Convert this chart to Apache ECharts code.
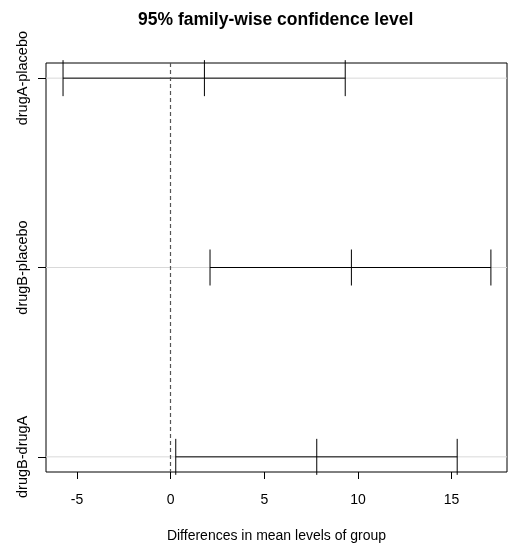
<!DOCTYPE html>
<html>
<head>
<meta charset="utf-8">
<script src="https://cdn.jsdelivr.net/npm/echarts@6/dist/echarts.min.js"></script>
<style>
  html, body { margin: 0; padding: 0; background: #fff; }
  #chart { width: 509px; height: 543px; }
</style>
</head>
<body>
<div id="chart"></div>
<script>
// Tukey HSD comparisons (top to bottom)
var comparisons = ["drugA-placebo", "drugB-placebo", "drugB-drugA"];
var diffs = [1.8, 9.65, 7.8];
var lowers = [-5.75, 2.1, 0.27];
var uppers = [9.32, 17.1, 15.3];
var xTicks = [-5, 0, 5, 10, 15];
var rowPos = [1, 2, 3];

var rows = comparisons.map(function (name, i) {
  return [rowPos[i], lowers[i], diffs[i], uppers[i]];
});

var myChart = echarts.init(document.getElementById("chart"));
var font = "Liberation Sans, Arial, sans-serif";

var option = {
  animation: false,
  title: {
    text: "95% family-wise confidence level",
    left: 133,
    top: 6,
    textStyle: { fontFamily: font, fontSize: 17.5, fontWeight: "bold", color: "#000" }
  },
  grid: {
    left: 46,
    right: 2,
    top: 63,
    bottom: 71,
    outerBoundsMode: "none",
    show: true,
    borderColor: "#000",
    borderWidth: 1
  },
  xAxis: {
    type: "value",
    min: -6.66,
    max: 17.96,
    name: "Differences in mean levels of group",
    nameLocation: "middle",
    nameGap: 57,
    nameTextStyle: { fontFamily: font, fontSize: 14, color: "#000" },
    axisLine: { show: false, onZero: false },
    axisTick: { show: true, length: 7, customValues: xTicks, lineStyle: { color: "#000" } },
    axisLabel: { customValues: xTicks, margin: 21, fontFamily: font, fontSize: 14, color: "#000" },
    splitLine: { show: false }
  },
  yAxis: {
    type: "value",
    min: 0.92,
    max: 3.08,
    inverse: true,
    axisLine: { show: false, onZero: false },
    axisTick: { show: true, length: 8, customValues: rowPos, lineStyle: { color: "#000" } },
    axisLabel: {
      customValues: rowPos,
      rotate: 90,
      margin: 16,
      fontFamily: font,
      fontSize: 14.5,
      color: "#000",
      formatter: function (v) {
        return comparisons[Math.round(v) - 1];
      }
    },
    splitLine: { show: false }
  },
  series: [
    {
      type: "custom",
      data: rows,
      encode: { x: [1, 2, 3], y: 0 },
      renderItem: function (params, api) {
        var y = api.value(0);
        var lo = api.coord([api.value(1), y]);
        var mid = api.coord([api.value(2), y]);
        var hi = api.coord([api.value(3), y]);
        var cs = params.coordSys;
        var h = 18;
        var black = { stroke: "#000", lineWidth: 1 };
        return {
          type: "group",
          children: [
            { type: "line", shape: { x1: cs.x, y1: lo[1], x2: cs.x + cs.width, y2: lo[1] }, style: { stroke: "#d9d9d9", lineWidth: 1 } },
            { type: "line", shape: { x1: lo[0], y1: lo[1], x2: hi[0], y2: hi[1] }, style: black },
            { type: "line", shape: { x1: lo[0], y1: lo[1] - h, x2: lo[0], y2: lo[1] + h }, style: black },
            { type: "line", shape: { x1: mid[0], y1: mid[1] - h, x2: mid[0], y2: mid[1] + h }, style: black },
            { type: "line", shape: { x1: hi[0], y1: hi[1] - h, x2: hi[0], y2: hi[1] + h }, style: black }
          ]
        };
      },
      markLine: {
        silent: true,
        symbol: "none",
        label: { show: false },
        lineStyle: { color: "#555", type: [4, 3], width: 1.2 },
        data: [{ xAxis: 0 }]
      }
    }
  ]
};

myChart.setOption(option);
</script>
</body>
</html>
